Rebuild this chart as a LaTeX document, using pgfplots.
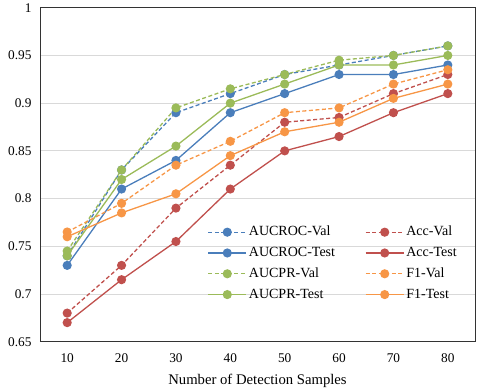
\documentclass[border=0pt]{standalone}
\usepackage{pgfplots}
\pgfplotsset{compat=1.18}
\usepackage{fontspec}
\setmainfont{Liberation Serif}

\definecolor{xblue}{RGB}{74,126,187}
\definecolor{xred}{RGB}{192,80,77}
\definecolor{xgreen}{RGB}{155,187,89}
\definecolor{xorange}{RGB}{247,150,70}
\definecolor{xgrid}{RGB}{217,217,217}

\pgfplotsset{
  val/.style={line width=1.3pt, dash pattern=on 4pt off 2.5pt, mark=*, mark size=3.9pt, mark options={solid}},
  tst/.style={line width=1.3pt, mark=*, mark size=3.9pt},
}

\begin{document}
\begin{tikzpicture}
\path (-40pt,-47pt) rectangle (440pt,341pt);
\begin{axis}[
  at={(0,0)}, anchor=south west,
  scale only axis,
  width=435pt, height=334pt,
  xmin=-0.5, xmax=7.5,
  ymin=0.65, ymax=1,
  xtick={0,...,7},
  xticklabels={10,20,30,40,50,60,70,80},
  x tick style={draw=none},
  extra x ticks={0.5,1.5,...,6.5},
  extra x tick labels={},
  extra x tick style={tick style={draw=black!80, line width=0.8pt}, major tick length=5pt, tick align=inside, grid=none},
  ytick={0.65,0.7,...,1.01},
  y tick style={draw=none},
  ymajorgrids,
  grid style={xgrid, line width=0.9pt},
  axis line style={black!80, line width=0.9pt},
  /pgf/number format/assume math mode=true,
  yticklabel style={/pgf/number format/fixed, /pgf/number format/precision=2, xshift=-5pt},
  ticklabel style={font=\fontsize{13.3}{15}\selectfont},
  xticklabel style={yshift=-8pt},
  xlabel={Number of Detection Samples},
  xlabel style={font=\fontsize{14.7}{17}\selectfont, yshift=-5pt},
  legend columns=2,
  legend style={at={(0.378,0.36)}, anchor=north west, draw=none, fill=none,
    font=\fontsize{14}{16}\selectfont, row sep=3.8pt,
    nodes={text height=10pt, text depth=3pt},
    /tikz/every even column/.append style={column sep=28pt}},
  legend cell align=left,
  legend image code/.code={\draw[#1, mark repeat=2, mark phase=2] plot coordinates {(0pt,0pt) (19pt,0pt) (38pt,0pt)};},
]
% AUCROC
\addplot[val, xblue, forget plot] coordinates {(0,0.74) (1,0.83) (2,0.89) (3,0.91) (4,0.93) (5,0.94) (6,0.95) (7,0.96)};
\addplot[tst, xblue, forget plot] coordinates {(0,0.73) (1,0.81) (2,0.84) (3,0.89) (4,0.91) (5,0.93) (6,0.93) (7,0.94)};
% AUCPR
\addplot[val, xgreen, forget plot] coordinates {(0,0.745) (1,0.83) (2,0.895) (3,0.915) (4,0.93) (5,0.945) (6,0.95) (7,0.96)};
\addplot[tst, xgreen, forget plot] coordinates {(0,0.74) (1,0.82) (2,0.855) (3,0.90) (4,0.92) (5,0.94) (6,0.94) (7,0.95)};
% Acc
\addplot[val, xred, forget plot] coordinates {(0,0.68) (1,0.73) (2,0.79) (3,0.835) (4,0.88) (5,0.885) (6,0.91) (7,0.93)};
\addplot[tst, xred, forget plot] coordinates {(0,0.67) (1,0.715) (2,0.755) (3,0.81) (4,0.85) (5,0.865) (6,0.89) (7,0.91)};
% F1
\addplot[val, xorange, forget plot] coordinates {(0,0.765) (1,0.795) (2,0.835) (3,0.86) (4,0.89) (5,0.895) (6,0.92) (7,0.935)};
\addplot[tst, xorange, forget plot] coordinates {(0,0.76) (1,0.785) (2,0.805) (3,0.845) (4,0.87) (5,0.88) (6,0.905) (7,0.92)};

\addlegendimage{val, xblue}\addlegendentry{AUCROC-Val}
\addlegendimage{val, xred}\addlegendentry{Acc-Val}
\addlegendimage{tst, xblue}\addlegendentry{AUCROC-Test}
\addlegendimage{tst, xred}\addlegendentry{Acc-Test}
\addlegendimage{val, xgreen}\addlegendentry{AUCPR-Val}
\addlegendimage{val, xorange}\addlegendentry{F1-Val}
\addlegendimage{tst, xgreen}\addlegendentry{AUCPR-Test}
\addlegendimage{tst, xorange}\addlegendentry{F1-Test}
\end{axis}
\end{tikzpicture}
\end{document}
